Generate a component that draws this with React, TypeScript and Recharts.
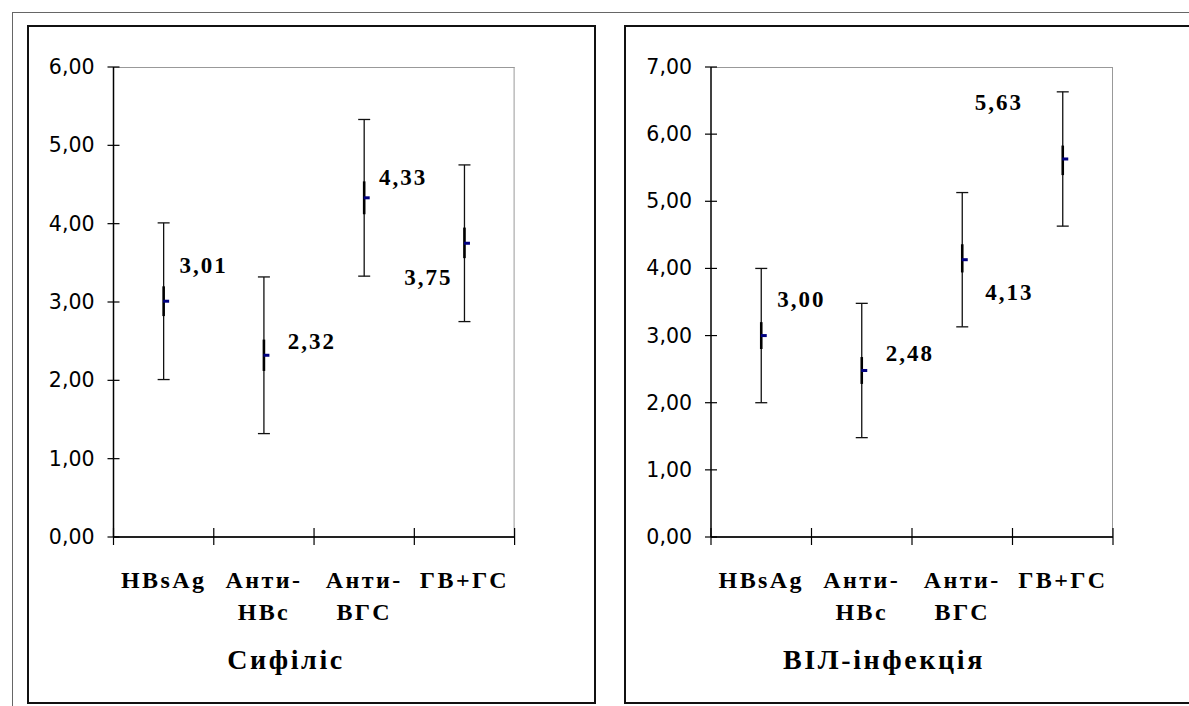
import React from 'react';
import { ComposedChart, Scatter, XAxis, YAxis, ErrorBar, CartesianGrid } from 'recharts';

// categories (multi-line tick labels)
const categories = ['HBsAg', 'Анти-HBc', 'Анти-ВГС', 'ГВ+ГС'];
const categoryLines = [['HBsAg'], ['Анти-', 'HBc'], ['Анти-', 'ВГС'], ['ГВ+ГС']];

// Сифіліс
const syphilisMean = [3.01, 2.32, 4.33, 3.75];
const syphilisLow = [2.01, 1.32, 3.33, 2.75];
const syphilisHigh = [4.01, 3.32, 5.33, 4.75];
const syphilisInnerLow = [2.82, 2.12, 4.12, 3.56];
const syphilisInnerHigh = [3.2, 2.52, 4.54, 3.95];
const syphilisTicks = [0, 1, 2, 3, 4, 5, 6];

// ВІЛ-інфекція
const hivMean = [3.0, 2.48, 4.13, 5.63];
const hivLow = [2.0, 1.48, 3.13, 4.63];
const hivHigh = [4.0, 3.48, 5.13, 6.63];
const hivInnerLow = [2.8, 2.28, 3.94, 5.39];
const hivInnerHigh = [3.2, 2.68, 4.36, 5.83];
const hivTicks = [0, 1, 2, 3, 4, 5, 6, 7];

// label placement relative to the mean point (layout only)
const syphilisLabelOffsets = [[40, -36], [48, -14], [39, -20], [-36, 34]];
const hivLabelOffsets = [[40, -36], [48, -17], [47, 33], [-64, -56]];

const CHART_H = 706;
const PLOT_TOP = 67;
const PLOT_BOTTOM = 537;
const SERIF = "'Liberation Serif', 'Times New Roman', serif";

const fmt = (v: number) => v.toFixed(2).replace('.', ',');

const YTick = ({ y, payload, axisX }: any) => (
  <g>
    <line x1={axisX - 6} x2={axisX + 6} y1={y} y2={y} stroke="#000" strokeWidth={1.2} />
    <text
      x={axisX - 19}
      y={y}
      textAnchor="end"
      dominantBaseline="central"
      fontFamily="'DejaVu Sans', Verdana, sans-serif"
      fontSize={20.5}
      fill="#000"
    >
      {fmt(payload.value)}
    </text>
  </g>
);

const XTick = ({ x, index, band }: any) => {
  const lines = categoryLines[index] || [];
  return (
    <g>
      <line x1={x - band / 2} x2={x - band / 2} y1={PLOT_BOTTOM - 9} y2={PLOT_BOTTOM + 8} stroke="#000" strokeWidth={1.2} />
      {index === categories.length - 1 && (
        <line x1={x + band / 2} x2={x + band / 2} y1={PLOT_BOTTOM - 9} y2={PLOT_BOTTOM + 8} stroke="#000" strokeWidth={1.2} />
      )}
      {lines.map((t: string, k: number) => (
        <text
          key={k}
          x={x}
          y={PLOT_BOTTOM + 43 + k * 32}
          textAnchor="middle"
          dominantBaseline="central"
          fontFamily={SERIF}
          fontWeight="bold"
          fontSize={24}
          style={{ letterSpacing: '2.4px' }}
          fill="#000"
        >
          {t}
        </text>
      ))}
    </g>
  );
};

const MeanMark = ({ cx, cy, payload, offsets }: any) => {
  const i = categories.indexOf(payload.name);
  const [dx, dy] = offsets[i];
  return (
    <g>
      <rect x={cx - 0.5} y={cy - 1.5} width={6} height={3} fill="#000080" />
      <text
        x={cx + dx}
        y={cy + dy}
        textAnchor="middle"
        dominantBaseline="central"
        fontFamily={SERIF}
        fontWeight="bold"
        fontSize={23}
        style={{ letterSpacing: '2px' }}
        fill="#000"
      >
        {fmt(payload.mean)}
      </text>
    </g>
  );
};

interface PanelProps {
  means: number[];
  lows: number[];
  highs: number[];
  innerLows: number[];
  innerHighs: number[];
  ticks: number[];
  offsets: number[][];
  width: number;
  plotLeft: number;
  plotRight: number;
}

function Panel({ means, lows, highs, innerLows, innerHighs, ticks, offsets, width, plotLeft, plotRight }: PanelProps) {
  const data = categories.map((name, i) => ({
    name,
    mean: means[i],
    err: [means[i] - lows[i], highs[i] - means[i]],
    inner: [means[i] - innerLows[i], innerHighs[i] - means[i]],
  }));
  const yMax = ticks[ticks.length - 1];
  const band = (plotRight - plotLeft) / categories.length;
  const yAxisW = 60;
  return (
    <ComposedChart
      width={width}
      height={CHART_H}
      data={data}
      margin={{ top: PLOT_TOP, left: plotLeft - yAxisW, right: width - plotRight, bottom: CHART_H - PLOT_BOTTOM - 80 }}
    >
      {/* grey plot-area border on top and right */}
      <CartesianGrid
        horizontalPoints={[PLOT_TOP + 0.5]}
        verticalPoints={[plotRight - 0.5]}
        stroke="#999"
        strokeWidth={1}
      />
      <XAxis
        dataKey="name"
        type="category"
        scale="band"
        interval={0}
        height={80}
        tickLine={false}
        axisLine={{ stroke: '#222', strokeWidth: 2 }}
        tick={(p: any) => <XTick {...p} band={band} />}
      />
      <YAxis
        type="number"
        domain={[0, yMax]}
        ticks={ticks}
        interval={0}
        width={yAxisW}
        tickLine={false}
        axisLine={{ stroke: '#000', strokeWidth: 1.5 }}
        tick={(p: any) => <YTick {...p} axisX={plotLeft} />}
      />
      <Scatter
        dataKey="mean"
        isAnimationActive={false}
        shape={(p: any) => <MeanMark {...p} offsets={offsets} />}
      >
        <ErrorBar dataKey="err" direction="y" width={6} stroke="#111" strokeWidth={1.3} />
        <ErrorBar dataKey="inner" direction="y" width={0} stroke="#000" strokeWidth={2.6} />
      </Scatter>
    </ComposedChart>
  );
}

const titleStyle: React.CSSProperties = {
  position: 'absolute',
  width: 320,
  textAlign: 'center',
  fontFamily: SERIF,
  fontWeight: 'bold',
  fontSize: 28,
  letterSpacing: '2.6px',
  lineHeight: '32px',
  top: 644,
};

export default function App() {
  return (
    <div style={{ position: 'absolute', left: 0, top: 0, width: 1189, height: 706, overflow: 'hidden', background: '#fff' }}>
      <div style={{ position: 'absolute', left: 12, top: 12, width: 1300, height: 800, border: '1px solid #666' }} />
      <div style={{ position: 'absolute', left: 27, top: 25, width: 569, height: 679, boxSizing: 'border-box', border: '2px solid #111' }} />
      <div style={{ position: 'absolute', left: 624, top: 25, width: 700, height: 679, boxSizing: 'border-box', border: '2px solid #111' }} />
      <div style={{ position: 'absolute', left: 0, top: 0 }}>
        <Panel
          means={syphilisMean}
          lows={syphilisLow}
          highs={syphilisHigh}
          innerLows={syphilisInnerLow}
          innerHighs={syphilisInnerHigh}
          ticks={syphilisTicks}
          offsets={syphilisLabelOffsets}
          width={600}
          plotLeft={113.5}
          plotRight={514.6}
        />
      </div>
      <div style={{ position: 'absolute', left: 600, top: 0 }}>
        <Panel
          means={hivMean}
          lows={hivLow}
          highs={hivHigh}
          innerLows={hivInnerLow}
          innerHighs={hivInnerHigh}
          ticks={hivTicks}
          offsets={hivLabelOffsets}
          width={589}
          plotLeft={111}
          plotRight={513}
        />
      </div>
      <div style={{ ...titleStyle, left: 286 - 160 }}>Сифіліс</div>
      <div style={{ ...titleStyle, left: 884 - 160 }}>ВІЛ-інфекція</div>
    </div>
  );
}
